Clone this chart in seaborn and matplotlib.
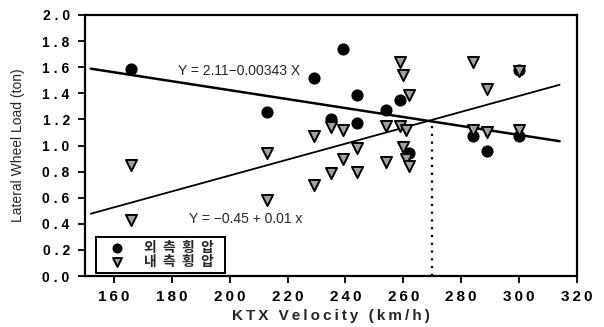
import numpy as np
import pandas as pd
import matplotlib
matplotlib.use("Agg")
import matplotlib.pyplot as plt
import seaborn as sns

# Outer-rail lateral load (외측횡압)
outer_speed = [166, 213, 229, 239, 244, 259, 254, 235, 244, 262, 284, 289, 300, 300]
outer_load = [1.59, 1.26, 1.52, 1.74, 1.39, 1.35, 1.27, 1.20, 1.17, 0.94, 1.07, 0.96, 1.07, 1.58]

# Inner-rail lateral load (내측횡압)
inner_speed = [166, 166, 213, 213, 229, 229, 235, 235, 239, 239, 244, 244, 254, 254,
               259, 260, 262, 259, 261, 260, 261, 262, 284, 284, 289, 289, 300, 300]
inner_load = [0.85, 0.43, 0.94, 0.58, 1.07, 0.70, 1.14, 0.79, 1.12, 0.90, 0.98, 0.80, 1.15, 0.87,
              1.64, 1.54, 1.39, 1.15, 1.12, 0.99, 0.90, 0.84, 1.64, 1.12, 1.43, 1.10, 1.57, 1.12]

# Linear fits: Y = a + b X
outer_fit = (2.11, -0.00343)
inner_fit = (-0.45, 0.0061)
fit_range = [152, 314]
crossing_speed = 270

outer_label = "외측횡압"
inner_label = "내측횡압"
outer_eq = "Y = 2.11\u22120.00343 X"
inner_eq = "Y = \u22120.45 + 0.01 x"

x_ticks = [160, 180, 200, 220, 240, 260, 280, 300, 320]
y_ticks = [0.0, 0.2, 0.4, 0.6, 0.8, 1.0, 1.2, 1.4, 1.6, 1.8, 2.0]

sns.set_style("ticks")
plt.rcParams["font.family"] = ["Liberation Sans", "DejaVu Sans"]

fig = plt.figure(figsize=(6.04, 3.27), dpi=100)
ax = fig.add_axes([85 / 604, 1 - 276 / 327, 492 / 604, 261 / 327])


def spaced(s, sep="\u2009"):
    return sep.join(s)


outer_df = pd.DataFrame({"speed": outer_speed, "load": outer_load})
inner_df = pd.DataFrame({"speed": inner_speed, "load": inner_load})

sns.scatterplot(data=outer_df, x="speed", y="load", marker="o", s=60,
                color="black", edgecolor="black", linewidth=1.0,
                label=spaced(outer_label, "  ") + "  ", ax=ax, zorder=3)
sns.scatterplot(data=inner_df, x="speed", y="load", marker="v", s=64,
                color="#a0a0a0", edgecolor="black", linewidth=1.4,
                label=spaced(inner_label, "  ") + "  ", ax=ax, zorder=4)

xf = np.array(fit_range, dtype=float)
sns.lineplot(x=xf, y=outer_fit[0] + outer_fit[1] * xf, color="black",
             linewidth=1.8, ax=ax, legend=False, zorder=2)
sns.lineplot(x=xf, y=inner_fit[0] + inner_fit[1] * xf, color="black",
             linewidth=1.3, ax=ax, legend=False, zorder=2)

y_cross = outer_fit[0] + outer_fit[1] * crossing_speed
ax.plot([crossing_speed, crossing_speed], [0, y_cross - 0.02], color="black",
        linewidth=1.6, linestyle=(0, (1, 2.5)), zorder=1)

ax.text(182, 1.57, outer_eq, fontsize=10, va="center", ha="left")
ax.text(186, 0.44, inner_eq, fontsize=10, va="center", ha="left")

ax.set_xlim(150, 320)
ax.set_ylim(0, 2.0)
ax.set_xticks(x_ticks)
ax.set_xticklabels([spaced(str(v)) for v in x_ticks], fontsize=11, fontweight="bold")
ax.set_yticks(y_ticks)
ax.set_yticklabels([spaced(f"{v:.1f}", " ") for v in y_ticks], fontsize=10, fontweight="bold")
ax.tick_params(axis="x", direction="out", length=5, width=1.3, pad=5, colors="black")
ax.tick_params(axis="y", direction="out", length=5, width=1.3, pad=6, colors="black")

for side in ["left", "bottom", "top", "right"]:
    ax.spines[side].set_visible(True)
    ax.spines[side].set_color("black")
    ax.spines[side].set_linewidth(1.6)

ax.set_xlabel(spaced("KTX Velocity (km/h)"), fontsize=11, fontweight="bold")
ax.set_ylabel("Lateral Wheel Load (ton)", fontsize=10)
ax.xaxis.set_label_coords(0.5, -0.125)
ax.yaxis.set_label_coords(-0.122, 0.5)

leg = ax.legend(loc="lower left", bbox_to_anchor=(0.022, 0.012), borderaxespad=0,
                frameon=True, fancybox=False, edgecolor="black", framealpha=1,
                prop={"family": ["Noto Sans CJK KR", "DejaVu Sans"], "size": 10, "weight": "bold"},
                handlelength=2.4, handletextpad=0.8, borderpad=0.3, labelspacing=0.0,
                markerscale=0.8)
leg.get_frame().set_linewidth(1.4)

fig.savefig("out.png", dpi=100)
